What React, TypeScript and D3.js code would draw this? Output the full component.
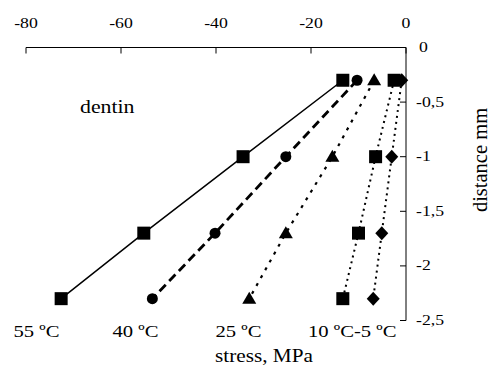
import React from "react";
import * as d3 from "d3";

const distances = [-0.3, -1, -1.7, -2.3];
const s55 = [-13.3, -34.3, -55.2, -72.6];
const s40 = [-10.3, -25.3, -40.2, -53.4];
const s25 = [-6.7, -15.5, -25.3, -33.0];
const s10 = [-2.5, -6.4, -10.0, -13.3];
const sm5 = [-0.9, -3.0, -5.1, -6.9];
const xTicks = [-80, -60, -40, -20, 0];
const yTicks = [0, -0.5, -1, -1.5, -2, -2.5];
const seriesLabels = ["55 ºC", "40 ºC", "25 ºC", "10 ºC", "-5 ºC"];

const W = 491, H = 367;
const x = d3.scaleLinear().domain([-80, 0]).range([26, 406]);
const y = d3.scaleLinear().domain([0, -2.5]).range([47.5, 320.5]);
const ff = { fontFamily: "Liberation Serif, DejaVu Serif, serif" };
const SX = 1.18;

type S = { vals: number[]; marker: string; dash: string; width: number };
const series: S[] = [
  { vals: s55, marker: "square", dash: "none", width: 1.5 },
  { vals: s40, marker: "circle", dash: "9,5", width: 2.8 },
  { vals: s25, marker: "triangle", dash: "3,6", width: 2.2 },
  { vals: s10, marker: "square", dash: "2,4", width: 2 },
  { vals: sm5, marker: "diamond", dash: "2,4", width: 2 },
];

function marker(kind: string, cx: number, cy: number, key: string) {
  if (kind === "square") return <rect key={key} x={cx - 6.5} y={cy - 6.5} width={13} height={13} fill="#000" />;
  if (kind === "circle") return <circle key={key} cx={cx} cy={cy} r={5.5} fill="#000" />;
  if (kind === "triangle") return <path key={key} d={`M${cx},${cy - 7}L${cx + 7},${cy + 5}L${cx - 7},${cy + 5}Z`} fill="#000" />;
  return <path key={key} d={`M${cx},${cy - 7}L${cx + 6.5},${cy}L${cx},${cy + 7}L${cx - 6.5},${cy}Z`} fill="#000" />;
}

function T(props: { x: number; y: number; size: number; anchor?: string; children: any }) {
  return (
    <text transform={`translate(${props.x},${props.y}) scale(${SX},1)`} fontSize={props.size}
      textAnchor={props.anchor || "start"} style={ff}>{props.children}</text>
  );
}

export default function App() {
  const line = d3.line<number>().x((d) => x(d)).y((_, i) => y(distances[i]));
  const labelX = [36.5, 135.5, 238.5];
  return (
    <svg width={W} height={H} style={{ position: "absolute", left: 0, top: 0, background: "#fff" }}>
      {/* top x axis */}
      <line x1={x(-80)} x2={x(0)} y1={y(0)} y2={y(0)} stroke="#000" strokeWidth={1} />
      {xTicks.map((t) => (
        <g key={"xt" + t}>
          <line x1={x(t)} x2={x(t)} y1={y(0)} y2={y(0) + 6} stroke="#000" />
          <T x={x(t)} y={28} size={15} anchor="middle">{t}</T>
        </g>
      ))}
      {/* right y axis */}
      <line x1={x(0)} x2={x(0)} y1={y(0)} y2={y(-2.5)} stroke="#000" strokeWidth={1} />
      {yTicks.map((t) => (
        <g key={"yt" + t}>
          <line x1={x(0) - 6} x2={x(0)} y1={y(t)} y2={y(t)} stroke="#000" />
          <T x={t === 0 ? 419 : 416} y={y(t) + 4.5} size={15}>{String(t).replace(".", ",")}</T>
        </g>
      ))}
      <text transform={`translate(487,160) rotate(-90)`} fontSize={20.5} textAnchor="middle" style={ff}>distance mm</text>
      <T x={264} y={362} size={18} anchor="middle">stress, MPa</T>
      <T x={80} y={113} size={18.5}>dentin</T>
      {series.map((s, i) => (
        <path key={"l" + i} d={line(s.vals) || ""} fill="none" stroke="#000" strokeWidth={s.width} strokeDasharray={s.dash} />
      ))}
      {series.map((s, i) => s.vals.map((v, j) => marker(s.marker, x(v), y(distances[j]), `m${i}-${j}`)))}
      {seriesLabels.slice(0, 3).map((l, i) => (
        <T key={l} x={labelX[i]} y={337} size={17.5} anchor="middle">{l}</T>
      ))}
      <T x={308} y={337} size={17.5}>{seriesLabels[3] + seriesLabels[4]}</T>
    </svg>
  );
}
